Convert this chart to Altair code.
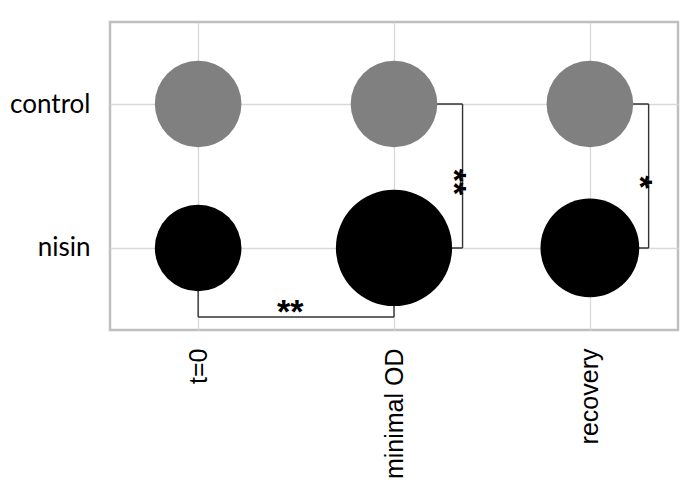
import altair as alt
import pandas as pd

# ---- data ----
phases = ["t=0", "minimal OD", "recovery"]
groups = ["control", "nisin"]
control_size = [100, 100, 100]      # relative circle area
nisin_size = [100, 180, 130]

# significance brackets
brackets_group = [("t=0", "minimal OD", "**")]              # within nisin, across phases
brackets_phase = [("minimal OD", "**"), ("recovery", "*")]  # control vs nisin at phase

xi = {p: i for i, p in enumerate(phases)}
yi = {"control": 1, "nisin": 0}

rows = []
for p, c, n in zip(phases, control_size, nisin_size):
    rows.append({"x": xi[p], "y": yi["control"], "size": c, "group": "control"})
    rows.append({"x": xi[p], "y": yi["nisin"], "size": n, "group": "nisin"})
pts = pd.DataFrame(rows)

# bracket geometry (annotation offsets in data units)
drop = -0.48
side = {"minimal OD": 0.35, "recovery": 0.30}
segs = []
txt = []
for a, b, lab in brackets_group:
    segs.append({"x": xi[a], "x2": xi[a], "y": 0, "y2": drop})
    segs.append({"x": xi[a], "x2": xi[b], "y": drop, "y2": drop})
    segs.append({"x": xi[b], "x2": xi[b], "y": drop, "y2": 0})
    txt.append({"x": (xi[a] + xi[b]) / 2 - 0.03, "y": drop + 0.07, "t": lab, "a": 0})
for p, lab in brackets_phase:
    xs = xi[p] + side[p]
    segs.append({"x": xi[p], "x2": xs, "y": 1, "y2": 1})
    segs.append({"x": xs, "x2": xs, "y": 1, "y2": 0})
    segs.append({"x": xi[p], "x2": xs, "y": 0, "y2": 0})
    txt.append({"x": xs - 0.05, "y": 0.5, "t": lab, "a": 90})
segs = pd.DataFrame(segs)
txt = pd.DataFrame(txt)

xscale = alt.Scale(domain=[-0.45, 2.45], nice=False, zero=False)
yscale = alt.Scale(domain=[-0.57, 1.57], nice=False, zero=False)

x_axis = alt.Axis(values=[0, 1, 2], title=None, labelAngle=-90,
                  labelExpr="datum.value == 0 ? 't=0' : datum.value == 1 ? 'minimal OD' : 'recovery'",
                  labelFont="Liberation Sans", labelFontSize=25, labelColor="#000000",
                  labelPadding=18, ticks=False, domain=False,
                  grid=True, gridColor="#d9d9d9", gridWidth=1.3)
y_axis = alt.Axis(values=[0, 1], title=None,
                  labelExpr="datum.value == 1 ? 'control' : 'nisin'",
                  labelFont="Lato", labelFontSize=26, labelColor="#000000",
                  labelPadding=20, ticks=False, domain=False,
                  grid=True, gridColor="#d9d9d9", gridWidth=1.3)

rules = alt.Chart(segs).mark_rule(color="#333333", strokeWidth=1.4).encode(
    x=alt.X("x:Q", scale=xscale, axis=x_axis),
    x2="x2:Q",
    y=alt.Y("y:Q", scale=yscale, axis=y_axis),
    y2="y2:Q",
)

circles = alt.Chart(pts).mark_circle(opacity=1).encode(
    x=alt.X("x:Q", scale=xscale),
    y=alt.Y("y:Q", scale=yscale),
    size=alt.Size("size:Q", scale=alt.Scale(domain=[0, 200], range=[0, 15000]), legend=None),
    color=alt.Color("group:N", scale=alt.Scale(domain=groups, range=["#808080", "#000000"]), legend=None),
)

text0 = alt.Chart(txt[txt["a"] == 0]).mark_text(
    fontSize=34, font="Liberation Sans", fontWeight="bold", color="#000000",
    baseline="middle", align="center", dy=6
).encode(x=alt.X("x:Q", scale=xscale), y=alt.Y("y:Q", scale=yscale), text="t:N")

text90 = alt.Chart(txt[txt["a"] == 90]).mark_text(
    fontSize=34, font="Liberation Sans", fontWeight="bold", color="#000000",
    baseline="middle", align="center", angle=90, dx=6
).encode(x=alt.X("x:Q", scale=xscale), y=alt.Y("y:Q", scale=yscale), text="t:N")

chart = alt.layer(rules, circles, text0, text90).properties(
    width=568, height=308,
    autosize=alt.AutoSizeParams(type="none"),
    padding={"left": 102, "top": 14, "right": 10, "bottom": 160},
).configure_view(stroke="#bfbfbf", strokeWidth=2.5)

chart.save("out.html", embed_options={"renderer": "svg", "actions": False})
